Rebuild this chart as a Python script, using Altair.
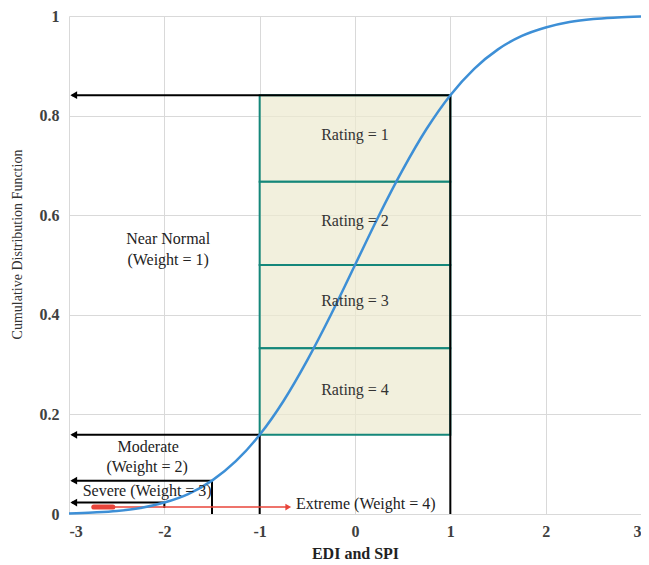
import altair as alt
import pandas as pd

# --- data ---
curve_x = [-3, -2.75, -2.5, -2.25, -2, -1.75, -1.5, -1.25, -1, -0.75, -0.5, -0.25, 0,
           0.25, 0.5, 0.75, 1, 1.25, 1.5, 1.75, 2, 2.25, 2.5, 2.75, 3]
curve_y = [0.001, 0.003, 0.006, 0.012, 0.023, 0.040, 0.067, 0.106, 0.159, 0.227, 0.309, 0.401, 0.5,
           0.599, 0.691, 0.773, 0.841, 0.894, 0.933, 0.960, 0.977, 0.988, 0.994, 0.997, 0.999]

band_lo = [0.667, 0.5, 0.333, 0.159]
band_hi = [0.841, 0.667, 0.5, 0.333]
band_text = ["Rating = 1", "Rating = 2", "Rating = 3", "Rating = 4"]
band_text_y = [0.761, 0.589, 0.428, 0.25]

seg_x = [-2.97, 1, -2.97, -1, -2.97, -1.5, -2.97, -2]
seg_x2 = [1, 1, -1, -1, -1.5, -1.5, -2, -2]
seg_y = [0.841, 0.841, 0.159, 0.159, 0.067, 0.067, 0.023, 0.023]
seg_y2 = [0.841, 0, 0.159, 0, 0.067, 0, 0.023, 0.012]

head_y = [0.841, 0.159, 0.067, 0.023]
head_x = [-2.95, -2.95, -2.95, -2.95]

red_x, red_x2, red_y = [-2.76], [-0.72], [0.014]
blob_x, blob_x2 = [-2.74], [-2.54]
red_head_x = [-0.7]

lab_text = ["Near Normal", "(Weight = 1)", "Moderate", "(Weight = 2)", "Severe (Weight = 3)"]
lab_x = [-1.96, -1.96, -2.17, -2.18, -2.18]
lab_y = [0.553, 0.511, 0.134, 0.094, 0.046]

ext_text = ["Extreme (Weight = 4)"]
ext_x = [-0.62]
ext_y = [0.02]

x_ticks = [-3, -2, -1, 0, 1, 2, 3]
y_ticks = [0, 0.2, 0.4, 0.6, 0.8, 1]

FONT = "Liberation Serif"

xs = alt.Scale(domain=[-3, 3], nice=False, zero=False)
ys = alt.Scale(domain=[0, 1], nice=False)

x_axis = alt.Axis(values=x_ticks, title="EDI and SPI", labelExpr="datum.value + ''", grid=True,
                  gridColor="#d9d9d9", domain=False, ticks=False,
                  labelFont=FONT, labelFontSize=16, labelFontWeight="bold", labelColor="#404040",
                  labelPadding=9, titleFont=FONT, titleFontSize=16, titleFontWeight="bold",
                  titleColor="#222222", titlePadding=6)
y_axis = alt.Axis(values=y_ticks, title="Cumulative Distribution Function", labelExpr="datum.value + ''",
                  grid=True, gridColor="#d9d9d9", domain=False, ticks=False,
                  labelFont=FONT, labelFontSize=16, labelFontWeight="bold", labelColor="#404040",
                  labelPadding=10, titleFont=FONT, titleFontSize=14, titleFontWeight="normal",
                  titleColor="#333333", titleX=-45, titleY=228)

# base layer carrying axes
base = alt.Chart(pd.DataFrame({"x": curve_x, "y": curve_y})).mark_line(opacity=0).encode(
    x=alt.X("x:Q", scale=xs, axis=x_axis),
    y=alt.Y("y:Q", scale=ys, axis=y_axis),
)

bands_df = pd.DataFrame({"lo": band_lo, "hi": band_hi, "x": [-1] * 4, "x2": [1] * 4})
bands = alt.Chart(bands_df).mark_rect(fill="#ede9cf", fillOpacity=0.7, stroke="#14877a",
                                      strokeWidth=2).encode(
    x=alt.X("x:Q", scale=xs), x2="x2:Q", y=alt.Y("lo:Q", scale=ys), y2="hi:Q")

seg_df = pd.DataFrame({"x": seg_x, "x2": seg_x2, "y": seg_y, "y2": seg_y2})
segs = alt.Chart(seg_df).mark_rule(color="black", strokeWidth=2).encode(
    x=alt.X("x:Q", scale=xs), x2="x2:Q", y=alt.Y("y:Q", scale=ys), y2="y2:Q")

heads = alt.Chart(pd.DataFrame({"x": head_x, "y": head_y})).mark_point(
    shape="triangle-left", filled=True, color="black", size=60, opacity=1).encode(
    x=alt.X("x:Q", scale=xs), y=alt.Y("y:Q", scale=ys))

red_line = alt.Chart(pd.DataFrame({"x": red_x, "x2": red_x2, "y": red_y})).mark_rule(
    color="#e8443a", strokeWidth=1.5).encode(
    x=alt.X("x:Q", scale=xs), x2="x2:Q", y=alt.Y("y:Q", scale=ys))
red_blob = alt.Chart(pd.DataFrame({"x": blob_x, "x2": blob_x2, "y": red_y})).mark_rule(
    color="#e8443a", strokeWidth=5, strokeCap="round").encode(
    x=alt.X("x:Q", scale=xs), x2="x2:Q", y=alt.Y("y:Q", scale=ys))
red_head = alt.Chart(pd.DataFrame({"x": red_head_x, "y": red_y})).mark_point(
    shape="triangle-right", filled=True, color="#e8443a", size=45, opacity=1).encode(
    x=alt.X("x:Q", scale=xs), y=alt.Y("y:Q", scale=ys))

curve = alt.Chart(pd.DataFrame({"x": curve_x, "y": curve_y})).mark_line(
    color="#3d8fd6", strokeWidth=2.5, interpolate="monotone").encode(
    x=alt.X("x:Q", scale=xs), y=alt.Y("y:Q", scale=ys))

band_labels = alt.Chart(pd.DataFrame({"x": [0] * 4, "y": band_text_y, "t": band_text})).mark_text(
    font=FONT, fontSize=16, color="#333333", align="center", baseline="middle").encode(
    x=alt.X("x:Q", scale=xs), y=alt.Y("y:Q", scale=ys), text="t:N")

labels = alt.Chart(pd.DataFrame({"x": lab_x, "y": lab_y, "t": lab_text})).mark_text(
    font=FONT, fontSize=16, color="#222222", align="center", baseline="middle").encode(
    x=alt.X("x:Q", scale=xs), y=alt.Y("y:Q", scale=ys), text="t:N")

ext = alt.Chart(pd.DataFrame({"x": ext_x, "y": ext_y, "t": ext_text})).mark_text(
    font=FONT, fontSize=16, color="#222222", align="left", baseline="middle").encode(
    x=alt.X("x:Q", scale=xs), y=alt.Y("y:Q", scale=ys), text="t:N")

chart = alt.layer(base, bands, segs, heads, red_line, red_blob, red_head, curve,
                  band_labels, labels, ext).properties(
    width=572, height=498,
    padding={"left": 61, "top": 8, "right": 0, "bottom": 50},
    autosize=alt.AutoSizeParams(type="none"),
    background="white",
).configure_view(stroke=None)

chart.save("out.html", embed_options={"renderer": "svg", "actions": False})
